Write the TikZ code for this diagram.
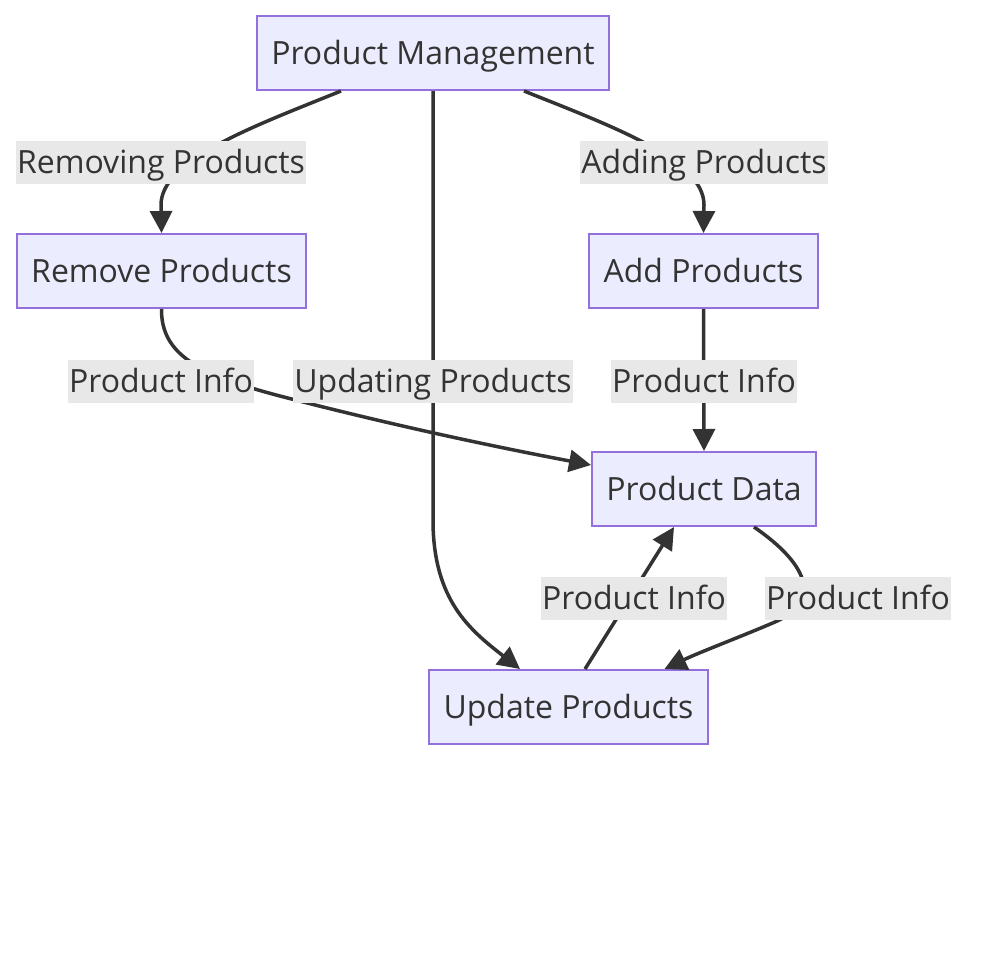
\documentclass[tikz,border=0pt]{standalone}
\usepackage{fontspec}
\setmainfont{Open Sans}
\usetikzlibrary{arrows.meta}
\definecolor{nodefill}{HTML}{ECECFF}
\definecolor{nodeline}{HTML}{9370DB}
\definecolor{edgecol}{HTML}{333333}
\definecolor{lblbg}{HTML}{E8E8E8}
\tikzset{
  box/.style={draw=nodeline, fill=nodefill, line width=2pt, minimum height=74pt,
    inner sep=0pt, text=edgecol, text height=30pt, text depth=6.4pt,
    font=\fontsize{32}{38}\selectfont},
  lbl/.style={fill=lblbg, inner xsep=1pt, inner ysep=3.3pt, text=edgecol,
    text height=30pt, text depth=6.4pt, font=\fontsize{32}{38}\selectfont},
  edge/.style={draw=edgecol, line width=3.5pt, -{Triangle[length=22pt,width=22pt]}}
}
\begin{document}
\begin{tikzpicture}[x=1pt,y=-1pt]
\fill[white] (0,0) rectangle (992,978);
\useasboundingbox (0,0) rectangle (992,978);
% nodes
\node[box, minimum width=352pt] (pm) at (433,53) {Product Management};
\node[box, minimum width=289pt] (rm) at (161.5,271) {Remove Products};
\node[box, minimum width=229pt] (add) at (703.5,271) {Add Products};
\node[box, minimum width=224pt] (pd) at (704,489) {Product Data};
\node[box, minimum width=279pt] (up) at (568.5,707) {Update Products};
% edges
\draw[edge] ([xshift=-92pt]pm.south) .. controls (252,127) and (161,160) .. (161,205) -- (rm.north);
\draw[edge] ([xshift=91pt]pm.south) .. controls (614,127) and (704,160) .. (704,205) -- (add.north);
\draw[edge] (pm.south) -- (433,520) .. controls (433,600) and (470,630) .. ([xshift=-48.5pt]up.north);
\draw[edge] (rm.south) .. controls (161,355) and (200,375) .. (280,396) .. controls (380,422) and (480,444) .. ([yshift=24pt]pd.west);
\draw[edge] (add.south) -- (pd.north);
\draw[edge] ([xshift=16.5pt]up.north) -- ([xshift=-30pt]pd.south);
\draw[edge] ([xshift=50pt]pd.south) .. controls (805,562) and (825,600) .. (775,622) .. controls (740,637) and (700,652) .. ([xshift=96pt]up.north);
% labels
\node[lbl] (l1) at (161,162) {Removing Products};
\node[lbl] (l2) at (704,162) {Adding Products};
\node[lbl] (l3) at (161,381) {Product Info};
\node[lbl] (l4) at (433,381) {Updating Products};
\node[lbl] (l5) at (704,381) {Product Info};
\node[lbl] (l6) at (634,598) {Product Info};
\node[lbl] (l7) at (858,598) {Product Info};
\end{tikzpicture}
\end{document}
